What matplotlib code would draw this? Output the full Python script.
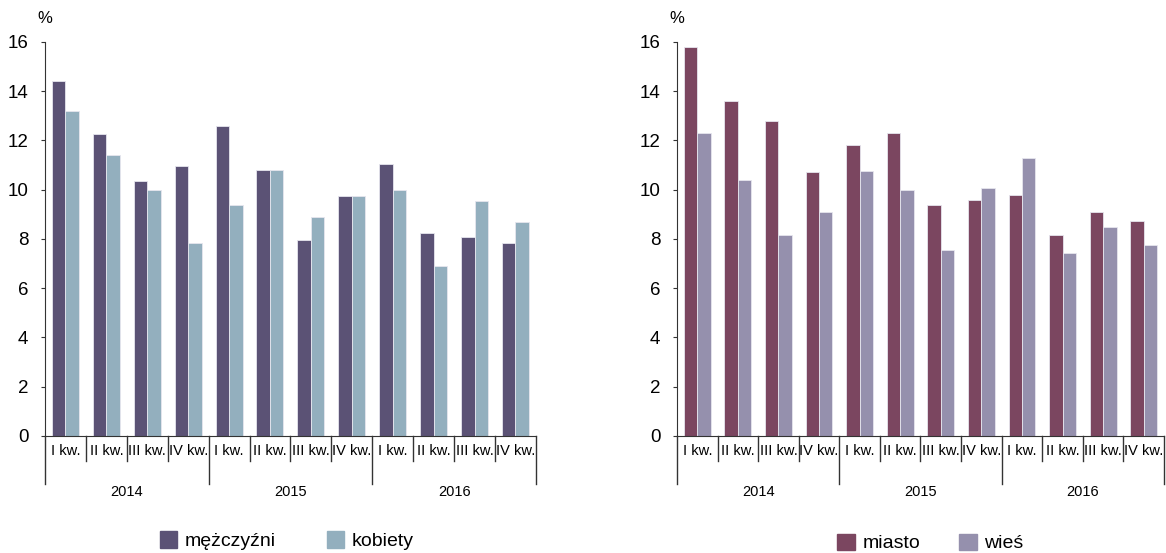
import numpy as np
import matplotlib.pyplot as plt
from matplotlib.patches import Patch

plt.rcParams['font.family'] = ['Liberation Sans', 'DejaVu Sans']

# dane
kwartaly = ['I kw.', 'II kw.', 'III kw.', 'IV kw.'] * 3
lata = ['2014', '2015', '2016']
mezczyzni = [14.4, 12.25, 10.35, 10.95, 12.6, 10.8, 7.95, 9.75, 11.05, 8.25, 8.1, 7.85]
kobiety = [13.2, 11.4, 10.0, 7.85, 9.4, 10.8, 8.9, 9.75, 10.0, 6.9, 9.55, 8.7]
miasto = [15.8, 13.6, 12.8, 10.7, 11.8, 12.3, 9.4, 9.6, 9.8, 8.15, 9.1, 8.75]
wies = [12.3, 10.4, 8.15, 9.1, 10.75, 10.0, 7.55, 10.05, 11.3, 7.45, 8.5, 7.75]

fig = plt.figure(figsize=(11.66, 5.53), dpi=100)
ax1 = fig.add_axes([0.0386, 0.2116, 0.421, 0.7125])
ax2 = fig.add_axes([0.5806, 0.2116, 0.4177, 0.7125])

x = np.arange(len(kwartaly))
w = 0.33
ax_h_px = 0.7125 * 553


def rysuj(ax, s1, s2, c1, c2):
    ax.bar(x - w / 2, s1, w, color=c1, edgecolor='#e6e6ee', linewidth=0.6)
    ax.bar(x + w / 2, s2, w, color=c2, edgecolor='#e6e6ee', linewidth=0.6)
    ax.set_xlim(-0.5, len(x) - 0.5)
    ax.set_ylim(0, 16)
    ax.set_yticks(range(0, 17, 2))
    ax.tick_params(axis='y', labelsize=13.5, length=3, color='#333333', pad=9)
    for s in ['top', 'right']:
        ax.spines[s].set_visible(False)
    ax.spines['left'].set_color('#333333')
    ax.spines['bottom'].set_color('#333333')
    ax.set_xticks(x)
    ax.set_xticklabels(kwartaly, fontsize=10.5)
    ax.tick_params(axis='x', length=0, pad=6)
    tr = ax.get_xaxis_transform()
    granice = np.arange(-0.5, len(x), 1)
    for i, g in enumerate(granice):
        dl = 48 if i % 4 == 0 else 25
        ax.plot([g, g], [0, -dl / ax_h_px], transform=tr, color='#333333',
                lw=1, clip_on=False)
    for j, rok in enumerate(lata):
        ax.text(4 * j + 1.5, -56 / ax_h_px, rok, transform=tr, ha='center',
                va='center', fontsize=10.5)
    ax.text(0, 1.04, '%', transform=ax.transAxes, ha='center', va='bottom',
            fontsize=12)


rysuj(ax1, mezczyzni, kobiety, '#5b5275', '#93afbe')
rysuj(ax2, miasto, wies, '#7b4660', '#9590ad')

fig.legend(handles=[Patch(color='#5b5275', label='mężczyźni'),
                    Patch(color='#93afbe', label='kobiety')],
           loc='center', bbox_to_anchor=(0.246, 0.022), ncol=2, frameon=False,
           fontsize=14, handlelength=0.9, handleheight=0.9, handletextpad=0.4,
           columnspacing=2.6)
fig.legend(handles=[Patch(color='#7b4660', label='miasto'),
                    Patch(color='#9590ad', label='wieś')],
           loc='center', bbox_to_anchor=(0.798, 0.018), ncol=2, frameon=False,
           fontsize=14, handlelength=0.9, handleheight=0.9, handletextpad=0.4,
           columnspacing=2.0)

fig.savefig('out.png', dpi=100)
